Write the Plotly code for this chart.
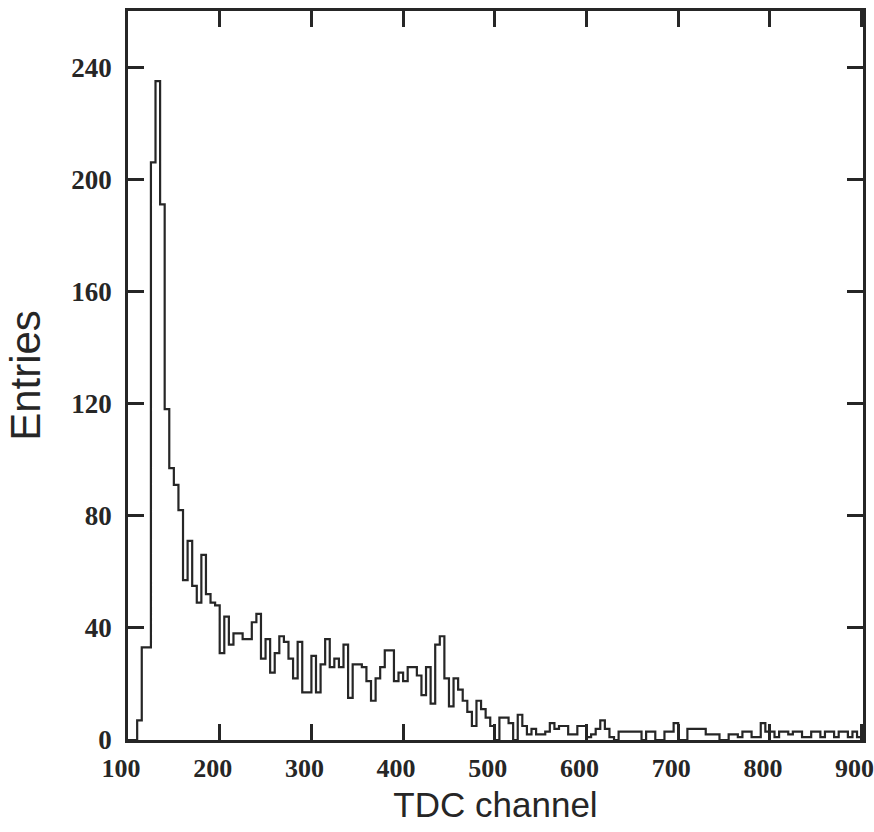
import plotly.graph_objects as go

# Bin starts (TDC channel), 5-channel bins from 100 to 900
bin_width = 5
bin_starts = list(range(100, 900, bin_width))

# Entries per bin
entries = [
    0, 0, 7, 33, 33, 206, 235, 191, 118, 97,         # 100-145
    91, 82, 57, 71, 55, 49, 66, 52, 49, 48,          # 150-195
    31, 44, 34, 38, 38, 36, 36, 42, 45, 29,          # 200-245
    36, 24, 31, 37, 35, 29, 22, 35, 17, 17,          # 250-295
    30, 17, 27, 36, 26, 29, 26, 34, 15, 27,          # 300-345
    27, 26, 21, 14, 22, 26, 32, 32, 21, 24,          # 350-395
    21, 26, 26, 23, 16, 26, 13, 34, 37, 22,          # 400-445
    12, 22, 18, 14, 10, 5, 14, 11, 8, 5,             # 450-495
    0, 8, 8, 6, 0, 9, 5, 2, 4, 2,                    # 500-545
    2, 3, 6, 4, 5, 5, 2, 2, 5, 5,                    # 550-595
    1, 2, 4, 7, 4, 1, 0, 3, 3, 3,                    # 600-645
    3, 3, 0, 3, 3, 0, 0, 3, 3, 6,                    # 650-695
    0, 0, 4, 4, 4, 4, 2, 2, 2, 0,                    # 700-745
    0, 2, 2, 1, 3, 3, 1, 1, 6, 3,                    # 750-795
    3, 1, 3, 3, 2, 3, 3, 1, 1, 3,                    # 800-845
    3, 1, 3, 3, 1, 3, 3, 1, 3, 1,                    # 850-895
]

x_ticks = [100, 200, 300, 400, 500, 600, 700, 800, 900]
y_ticks = [0, 40, 80, 120, 160, 200, 240]

# Step outline: edges + closing point
xs = bin_starts + [bin_starts[-1] + bin_width]
ys = entries + [entries[-1]]

ink = "#262626"

fig = go.Figure()
fig.add_trace(go.Scatter(
    x=xs, y=ys, mode="lines",
    line=dict(shape="hv", color=ink, width=2.2),
    hoverinfo="skip", showlegend=False,
))

fig.update_layout(
    width=874, height=832,
    margin=dict(l=128, r=11, t=11, b=92, autoexpand=False),
    paper_bgcolor="white", plot_bgcolor="white",
    showlegend=False,
    xaxis=dict(
        range=[100, 901.5], tickvals=x_ticks,
        ticks="inside", ticklen=16, tickwidth=2.5, tickcolor=ink,
        showline=True, linewidth=2.5, linecolor=ink, mirror="ticks",
        showgrid=False, zeroline=False, automargin=False,
        tickfont=dict(family="Liberation Serif", size=26, color=ink, weight="bold"),
        ticklabeloverflow="allow", ticklabelshift=-7, ticklabelstandoff=3,
        title=dict(text="TDC channel",
                   font=dict(family="Liberation Sans", size=35, color=ink),
                   standoff=11),
    ),
    yaxis=dict(
        range=[0, 260], tickvals=y_ticks,
        ticks="inside", ticklen=16, tickwidth=2.5, tickcolor=ink,
        showline=True, linewidth=2.5, linecolor=ink, mirror="ticks",
        showgrid=False, zeroline=False, automargin=False,
        tickfont=dict(family="Liberation Serif", size=27, color=ink, weight="bold"),
        ticklabelstandoff=8,
        title=dict(text="Entries",
                   font=dict(family="Liberation Sans", size=42, color=ink),
                   standoff=18),
    ),
)

fig.write_html("out.html")
